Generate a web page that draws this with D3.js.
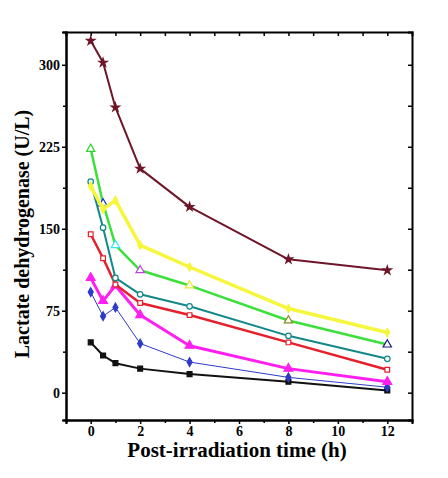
<!DOCTYPE html>
<html lang="en">
<head>
  <meta charset="UTF-8" />
  <title>LDH</title>
  <script src="https://cdn.jsdelivr.net/npm/d3@7/dist/d3.min.js"></script>
  <style>
    body { margin: 0; background: #fff; }
    text { font-family: "Liberation Serif", "DejaVu Serif", serif; font-weight: bold; }
  </style>
</head>
<body>
  <svg class="svg" width="448" height="478"></svg>
  <script>
    // sampling times (h)
    const times = [0, 0.5, 1, 2, 4, 8, 12];
    const xTicks = [0, 2, 4, 6, 8, 10, 12];
    const yTicks = [0, 75, 150, 225, 300];

    // LDH values (U/L)
    const darkRed = [322, 302, 261, 205, 170, 122, 112];
    const yellow = [189, 168, 176, 135, 115, 77, 55];
    const green = [223, 173, 135, 112, 98, 66, 44];
    const teal = [193, 151, 105, 90, 79, 52, 31];
    const red = [145, 123, 99, 82, 71, 46, 21];
    const magenta = [105, 84, 98, 71, 43, 22, 10];
    const blue = [92, 70, 78, 45, 28, 14, 5];
    const black = [46, 34, 27, 22, 17, 10, 2];

    const series = [
      { v: black, color: '#111', w: 2, sym: d3.symbolSquare, fill: true, size: 24 },
      { v: blue, color: '#2f3bc8', w: 1, sym: d3.symbolDiamond, fill: true, size: 22 },
      { v: magenta, color: '#ff1ff0', w: 3, sym: d3.symbolTriangle, fill: true, size: 34 },
      { v: red, color: '#e4202c', w: 2.5, sym: d3.symbolSquare, fill: false, size: 22 },
      { v: teal, color: '#138888', w: 2, sym: d3.symbolCircle, fill: false, size: 24 },
      { v: green, color: '#3be03b', w: 2.5, sym: d3.symbolTriangle, fill: false, size: 30,
        marks: ['#2fd02f', '#1c2bd0', '#2fe8e8', '#c040e0', '#e8e830', '#8a8a20', '#1a1a80'] },
      { v: yellow, color: '#f6f63c', w: 3.5, sym: d3.symbolDiamond, fill: true, size: 20 },
      { v: darkRed, color: '#6e1528', w: 2, sym: d3.symbolStar, fill: true, size: 22 }
    ];

    const svg = d3.select('.svg');
    const mLeft = 66, mRight = 412, mTop = 32, mBottom = 420;

    const x = d3.scaleLinear().domain([-1, 13]).range([mLeft, mRight]);
    const y = d3.scaleLinear().domain([-25, 330]).range([mBottom, mTop]);

    const minorX = d3.range(0, 13, 1);
    const minorY = d3.range(0, 330, 37.5);

    // bottom axis
    const gx = svg.append('g').attr('transform', `translate(0,${mBottom})`)
      .call(d3.axisBottom(x).tickValues(xTicks).tickSize(4).tickPadding(2).tickFormat(d3.format('d')));
    svg.append('g').attr('transform', `translate(0,${mBottom})`)
      .call(d3.axisBottom(x).tickValues(minorX.filter(d => d % 2 !== 0)).tickSize(3).tickFormat(''));
    // left axis
    const gy = svg.append('g').attr('transform', `translate(${mLeft},0)`)
      .call(d3.axisLeft(y).tickValues(yTicks).tickSize(4).tickPadding(2));
    svg.append('g').attr('transform', `translate(${mLeft},0)`)
      .call(d3.axisLeft(y).tickValues(minorY.filter(d => d % 75 !== 0)).tickSize(3).tickFormat(''));
    // top & right mirror axes with inner ticks
    svg.append('g').attr('transform', `translate(0,${mTop})`)
      .call(d3.axisBottom(x).tickValues(minorX).tickSize(4).tickFormat(''));
    svg.append('g').attr('transform', `translate(${mRight},0)`)
      .call(d3.axisLeft(y).tickValues(minorY).tickSize(4).tickFormat(''));

    svg.selectAll('.domain').attr('stroke', '#000').attr('stroke-width', 2);
    svg.selectAll('.tick line').attr('stroke', '#000').attr('stroke-width', 1.5);
    gx.selectAll('text').style('font-size', '14px').attr('fill', '#000');
    gy.selectAll('text').style('font-size', '14px').attr('fill', '#000');

    // axis titles
    svg.append('text')
      .attr('x', 237).attr('y', 457)
      .attr('text-anchor', 'middle').style('font-size', '21px')
      .text('Post-irradiation time (h)');
    svg.append('text')
      .attr('transform', `translate(29,${(mTop + mBottom) / 2 + 8}) rotate(-90)`)
      .attr('text-anchor', 'middle').style('font-size', '20px')
      .text('Lactate dehydrogenase (U/L)');

    const line = d3.line().x((d, i) => x(times[i])).y(d => y(d));

    const plot = svg.append('g');
    series.forEach(s => {
      plot.append('path')
        .attr('d', line(s.v))
        .attr('fill', 'none')
        .attr('stroke', s.color)
        .attr('stroke-width', s.w)
        .attr('stroke-linejoin', 'round');
      plot.selectAll(null)
        .data(s.v)
        .enter()
        .append('path')
        .attr('transform', (d, i) => `translate(${x(times[i])},${y(d)})`)
        .attr('d', d3.symbol().type(s.sym).size(s.size))
        .attr('fill', (d, i) => s.fill ? (s.marks ? s.marks[i] : s.color) : '#fff')
        .attr('stroke', (d, i) => s.marks ? s.marks[i] : s.color)
        .attr('stroke-width', 1.2);
    });
  </script>
</body>
</html>
